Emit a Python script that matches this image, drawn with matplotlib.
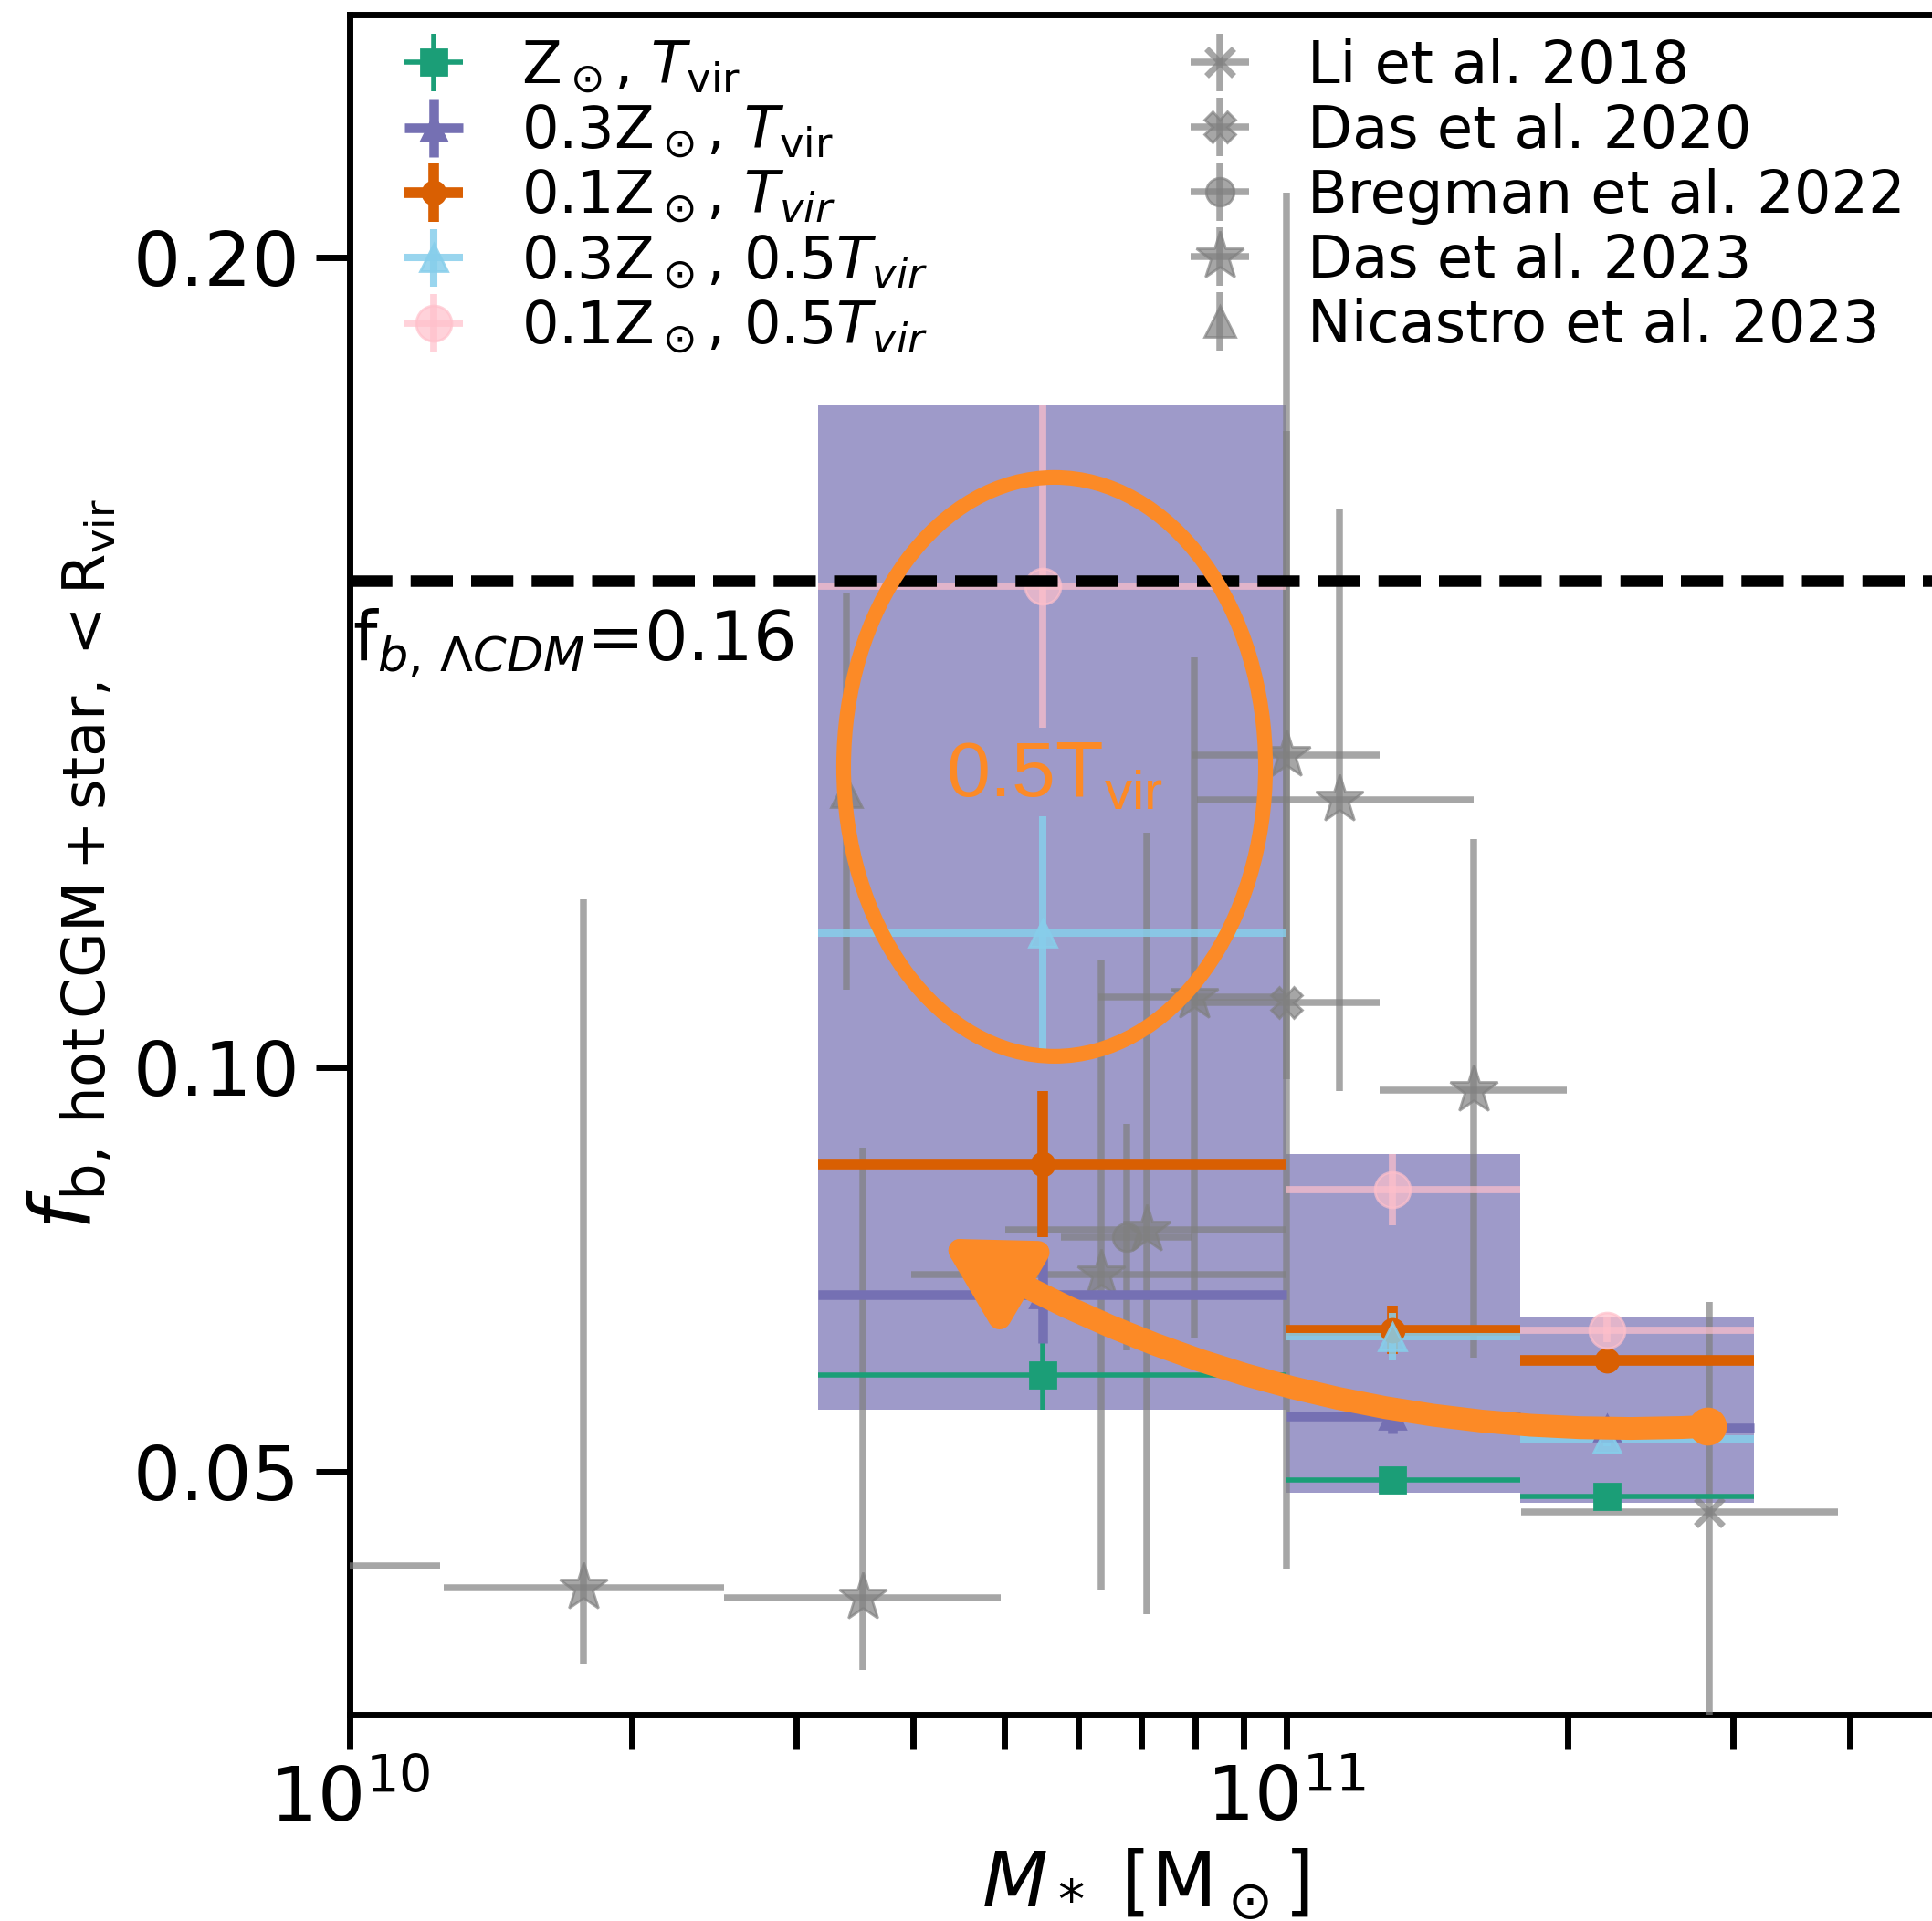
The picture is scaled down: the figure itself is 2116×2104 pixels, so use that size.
import numpy as np
import matplotlib.pyplot as plt
from matplotlib.patches import Ellipse, FancyArrowPatch

# model stellar-mass bins, log10(M*/Msun)
bin_lo = np.array([10.5, 11.0, 11.25])
bin_hi = np.array([11.0, 11.25, 11.5])
bin_mid = np.array([10.74, 11.114, 11.343])

# f_b (hot CGM + stars inside R_vir) per model
fb_z1_t1 = np.array([0.0619, 0.0490, 0.0470])
fb_z1_t1_err = np.array([0.0042, 0.0016, 0.0008])
fb_z03_t1 = np.array([0.0719, 0.0569, 0.0554])
fb_z03_t1_err = np.array([0.0060, 0.0022, 0.0010])
fb_z01_t1 = np.array([0.0880, 0.0675, 0.0638])
fb_z01_t1_err = np.array([0.0090, 0.0030, 0.0010])
fb_z03_t05 = np.array([0.1165, 0.0667, 0.0541])
fb_z03_t05_err = np.array([0.0145, 0.0029, 0.0010])
fb_z01_t05 = np.array([0.1594, 0.0848, 0.0675])
fb_z01_t05_lo = np.array([0.0175, 0.0044, 0.0015])
fb_z01_t05_hi = np.array([0.0223, 0.0044, 0.0015])

# observations
li18_logm = np.array([11.452])
li18_m_err = np.array([1.05e11])
li18_fb = np.array([0.045])
li18_fb_err = np.array([0.026])

das20_logm = np.array([11.0])
das20_logm_lo = np.array([10.9])
das20_logm_hi = np.array([11.1])
das20_fb = np.array([0.108])
das20_fb_lo = np.array([0.070])
das20_fb_hi = np.array([0.100])

breg22_logm = np.array([10.83])
breg22_logm_lo = np.array([10.76])
breg22_logm_hi = np.array([10.90])
breg22_fb = np.array([0.079])
breg22_fb_err = np.array([0.014])

das23_logm = np.array([9.95, 10.25, 10.548, 10.803, 10.851, 10.902, 11.0, 11.057, 11.20])
das23_logm_lo = np.array([9.80, 10.10, 10.40, 10.60, 10.70, 10.80, 10.90, 10.905, 11.10])
das23_logm_hi = np.array([10.097, 10.40, 10.695, 11.0, 11.0, 11.0, 11.10, 11.20, 11.30])
das23_fb = np.array([0.0384, 0.0357, 0.0344, 0.0743, 0.0799, 0.1086, 0.1385, 0.133, 0.0971])
das23_fb_lo = np.array([0.010, 0.0094, 0.0089, 0.039, 0.0475, 0.042, 0.040, 0.036, 0.033])
das23_fb_hi = np.array([0.050, 0.085, 0.0556, 0.039, 0.049, 0.042, 0.040, 0.036, 0.031])

nic23_logm = np.array([10.53])
nic23_fb = np.array([0.134])
nic23_fb_err = np.array([0.0245])

fb_cosmic = 0.16


def log_xerr(logm, lo, hi):
    m = 10**logm
    return m, np.vstack([m - 10**lo, 10**hi - m])


fig = plt.figure(figsize=(10.58, 10.52), dpi=200)
ax = fig.add_axes([0.181, 0.1074, 0.8234, 0.8852])
ax.set_xscale("log")

m_mid, m_err = log_xerr(bin_mid, bin_lo, bin_hi)

models = [
    (fb_z1_t1, fb_z1_t1_err, fb_z1_t1_err, r"Z$_\odot$, $T_{\rm vir}$",
     dict(color="#1b9e77", marker="s", ms=10, elinewidth=2.0)),
    (fb_z03_t1, fb_z03_t1_err, fb_z03_t1_err, r"0.3Z$_\odot$, $T_{\rm vir}$",
     dict(color="#7570b3", marker="^", ms=10, elinewidth=3.8)),
    (fb_z01_t1, fb_z01_t1_err, fb_z01_t1_err, r"0.1Z$_\odot$, $T_{vir}$",
     dict(color="#d95f02", marker="o", ms=9, elinewidth=4.2)),
    (fb_z03_t05, fb_z03_t05_err, fb_z03_t05_err, r"0.3Z$_\odot$, 0.5$T_{vir}$",
     dict(color="skyblue", marker="^", ms=11, elinewidth=2.9, alpha=0.85)),
    (fb_z01_t05, fb_z01_t05_lo, fb_z01_t05_hi, r"0.1Z$_\odot$, 0.5$T_{vir}$",
     dict(color="pink", marker="o", ms=14, elinewidth=2.8, alpha=0.7)),
]

# shaded range spanned by all models in each bin
band_lo = np.min([fb - lo for fb, lo, hi, _, _ in models], axis=0)
band_hi = np.max([fb + hi for fb, lo, hi, _, _ in models], axis=0)
for i in range(len(bin_mid)):
    ax.fill_between([10**bin_lo[i], 10**bin_hi[i]], band_lo[i], band_hi[i],
                    color="#7570b3", alpha=0.7, lw=0, zorder=1)

for fb, lo, hi, label, style in models:
    ax.errorbar(m_mid, fb, yerr=[lo, hi], xerr=m_err, ls="none", capsize=0,
                label=label, zorder=4, **style)

obs_style = dict(color="grey", alpha=0.7, ls="none", capsize=0, elinewidth=2.7, zorder=3)
ax.errorbar(10**li18_logm, li18_fb, yerr=li18_fb_err, xerr=li18_m_err,
            marker="x", ms=11, mew=2.5, label="Li et al. 2018", **obs_style)
m, e = log_xerr(das20_logm, das20_logm_lo, das20_logm_hi)
ax.errorbar(m, das20_fb, yerr=[das20_fb_lo, das20_fb_hi], xerr=e,
            marker="X", ms=12, label="Das et al. 2020", **obs_style)
m, e = log_xerr(breg22_logm, breg22_logm_lo, breg22_logm_hi)
ax.errorbar(m, breg22_fb, yerr=breg22_fb_err, xerr=e,
            marker="o", ms=11, label="Bregman et al. 2022", **obs_style)
m, e = log_xerr(das23_logm, das23_logm_lo, das23_logm_hi)
ax.errorbar(m, das23_fb, yerr=[das23_fb_lo, das23_fb_hi], xerr=e,
            marker="*", ms=20, label="Das et al. 2023", **obs_style)
ax.errorbar(10**nic23_logm, nic23_fb, yerr=nic23_fb_err,
            marker="^", ms=12, label="Nicastro et al. 2023", **obs_style)

ax.axhline(fb_cosmic, color="k", ls="--", lw=4.5, zorder=5)
ax.text(1.007e10, 0.1503, r"f$_{b,\,\Lambda CDM}$=0.16", fontsize=27,
        va="baseline", ha="left", zorder=6)

# highlight of the 0.5 T_vir models
orange = "#fc8a26"
ax.add_patch(Ellipse((0.4431, 0.5574), 0.2652, 0.3404, transform=ax.transAxes,
                     fill=False, ec=orange, lw=5.8, zorder=7))
ax.text(0.4431, 0.5515, r"0.5T$_{\mathregular{vir}}$", transform=ax.transAxes,
        color=orange, fontsize=31, family="Liberation Sans",
        ha="center", va="center", zorder=7)
arrow = FancyArrowPatch((10**11.45, 0.0556), (10**10.63, 0.0788),
                        connectionstyle="arc3,rad=-0.15",
                        arrowstyle="-|>,head_length=0.9,head_width=0.5",
                        mutation_scale=30, color=orange, lw=9, capstyle="round",
                        shrinkA=0, shrinkB=0, zorder=7)
ax.add_patch(arrow)
ax.plot(10**11.45, 0.0556, "o", color=orange, ms=14, zorder=7)

ax.set_xlim(1e10, 5e11)
ax.set_ylim(0.02, 0.23)
ax.set_yticks([0.05, 0.10, 0.20])
ax.set_yticklabels(["0.05", "0.10", "0.20"])
ax.tick_params(which="both", length=13.5, width=2.5, labelsize=29.5, pad=6)
for s in ax.spines.values():
    s.set_linewidth(2.5)

ax.set_xlabel(r"$M_*$ [M$_\odot$]", fontsize=30)
ax.set_ylabel(r"$f_{\rm b,\,hot\,CGM+star,<R_{vir}}$", fontsize=33, labelpad=6)

ax.legend(ncol=2, loc="upper left", bbox_to_anchor=(0.0235, 0.9962),
          frameon=False, fontsize=23, handlelength=1.0, handletextpad=1.0,
          columnspacing=4.5, labelspacing=0.14, borderaxespad=0, borderpad=0.3)

fig.savefig("out.png", dpi=200)
